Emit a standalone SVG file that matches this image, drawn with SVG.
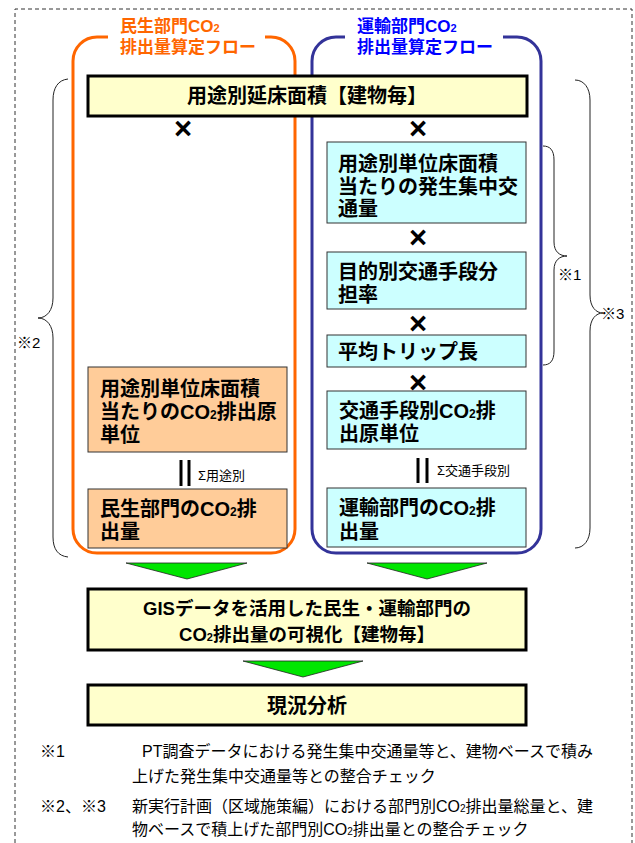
<svg xmlns="http://www.w3.org/2000/svg" width="635" height="843" viewBox="0 0 635 843">
<style>
text{font-family:'Liberation Sans','Noto Sans CJK JP',sans-serif;}
.bt{font-weight:bold;font-size:20px;fill:#000;}
.mt{font-weight:bold;font-size:18.5px;fill:#000;text-anchor:middle;}
.x{font-weight:bold;font-size:31px;fill:#000;text-anchor:middle;}
.sig{font-size:13px;fill:#000;}
.kome{font-size:15px;fill:#000;}
.fn{font-size:16px;fill:#000;}
.ttl{font-weight:bold;font-size:17px;}
.yb{fill:#FFFFCC;stroke:#000;stroke-width:3;}
.pb{fill:#FFCC99;stroke:#333;stroke-width:1;}
.cb{fill:#CCFFFF;stroke:#333;stroke-width:1;}
.brace{fill:none;stroke:#222;stroke-width:1;}
.eq{stroke:#000;stroke-width:3;}
.arr{fill:#00E600;stroke:#222;stroke-width:0.8;}
</style>
<rect x="0" y="0" width="635" height="843" fill="#fff"/>
<path d="M15,843 L15,9 L632,9 L632,843" fill="none" stroke="#333" stroke-width="1" stroke-dasharray="4,3"/>

<g id="minsei-frame">
<path d="M108,37 L97,37 A24,24 0 0 0 73,61 L73,529 A24,24 0 0 0 97,553 L271,553 A24,24 0 0 0 295,529 L295,61 A24,24 0 0 0 271,37 L265,37" fill="none" stroke="#FF6600" stroke-width="3"/>
<text class="ttl" x="120" y="32" fill="#FF6600">民生部門CO<tspan font-size="11">2</tspan></text>
<text class="ttl" x="120" y="53" fill="#FF6600">排出量算定フロー</text>
</g>

<g id="unyu-frame">
<path d="M345,37 L336,37 A24,24 0 0 0 312,61 L312,529 A24,24 0 0 0 336,553 L517,553 A24,24 0 0 0 541,529 L541,61 A24,24 0 0 0 517,37 L503,37" fill="none" stroke="#333399" stroke-width="3"/>
<text class="ttl" x="357" y="32" fill="#0000FF">運輸部門CO<tspan font-size="11">2</tspan></text>
<text class="ttl" x="357" y="53" fill="#0000FF">排出量算定フロー</text>
</g>

<g id="floor-area">
<rect class="yb" x="88" y="76" width="439" height="40"/>
<text class="bt" x="307" y="103" text-anchor="middle">用途別延床面積【建物毎】</text>
</g>

<g id="connectors">
<text class="x" x="183" y="139">×</text>
<text class="x" x="418" y="139">×</text>
<text class="x" x="418" y="248">×</text>
<text class="x" x="418" y="334">×</text>
<text class="x" x="418" y="393">×</text>
<line class="eq" x1="181" y1="460" x2="181" y2="486"/>
<line class="eq" x1="189" y1="460" x2="189" y2="486"/>
<text class="sig" x="198" y="480">Σ用途別</text>
<line class="eq" x1="418" y1="458" x2="418" y2="483"/>
<line class="eq" x1="427" y1="458" x2="427" y2="483"/>
<text class="sig" x="437" y="475">Σ交通手段別</text>
<polygon class="arr" points="126,563 247,563 187,579"/>
<polygon class="arr" points="367,563 487,563 427,579"/>
<polygon class="arr" points="243,661 363,661 303,677"/>
</g>

<g id="minsei-unit">
<rect class="pb" x="88" y="367" width="199" height="85"/>
<text class="bt" x="100" y="396">用途別単位床面積</text>
<text class="bt" x="100" y="419">当たりのCO<tspan font-size="12">2</tspan>排出原</text>
<text class="bt" x="100" y="442">単位</text>
</g>

<g id="minsei-co2">
<rect class="pb" x="88" y="489" width="199" height="59"/>
<text class="bt" x="100" y="516">民生部門のCO<tspan font-size="12">2</tspan>排</text>
<text class="bt" x="100" y="539">出量</text>
</g>

<g id="trip-gen">
<rect class="cb" x="327" y="142" width="199" height="81"/>
<text class="bt" x="338" y="171">用途別単位床面積</text>
<text class="bt" x="338" y="194">当たりの発生集中交</text>
<text class="bt" x="338" y="216">通量</text>
</g>

<g id="modal-share">
<rect class="cb" x="327" y="252" width="199" height="57"/>
<text class="bt" x="338" y="279">目的別交通手段分</text>
<text class="bt" x="338" y="302">担率</text>
</g>

<g id="trip-length">
<rect class="cb" x="327" y="335" width="199" height="32"/>
<text class="bt" x="338" y="359">平均トリップ長</text>
</g>

<g id="mode-unit">
<rect class="cb" x="327" y="391" width="199" height="58"/>
<text class="bt" x="339" y="418">交通手段別CO<tspan font-size="12">2</tspan>排</text>
<text class="bt" x="339" y="441">出原単位</text>
</g>

<g id="unyu-co2">
<rect class="cb" x="327" y="488" width="199" height="59"/>
<text class="bt" x="339" y="515">運輸部門のCO<tspan font-size="12">2</tspan>排</text>
<text class="bt" x="339" y="539">出量</text>
</g>

<g id="gis">
<rect class="yb" x="88" y="589" width="438" height="61"/>
<text class="mt" x="307" y="615">GISデータを活用した民生・運輸部門の</text>
<text class="mt" x="307" y="641">CO<tspan font-size="11">2</tspan>排出量の可視化【建物毎】</text>
</g>

<g id="analysis">
<rect class="yb" x="88" y="685" width="438" height="40"/>
<text class="bt" x="307" y="713" text-anchor="middle">現況分析</text>
</g>

<g id="braces">
<path class="brace" d="M68,79 C58,80 53,88 53,100 L53,298 C53,310 47,318 38,318 C47,318 53,326 53,338 L53,537 C53,549 58,556 68,557"/>
<text class="kome" x="17" y="348">※2</text>
<path class="brace" d="M543,146 C550,146 554,150 554,160 L554,242 C554,252 560,256 567,256 C560,256 554,260 554,270 L554,351 C554,361 550,365 543,365"/>
<text class="kome" x="558" y="280">※1</text>
<path class="brace" stroke="#444" d="M575,80 C584,80 590,88 590,100 L590,295 C590,307 596,313 603,313 C596,313 590,319 590,331 L590,528 C590,540 584,548 575,548"/>
<text class="kome" x="601" y="319">※3</text>
</g>

<g id="notes">
<text class="fn" x="40" y="757">※1</text>
<text class="fn" x="142" y="757">PT調査データにおける発生集中交通量等と、建物ベースで積み</text>
<text class="fn" x="132" y="782">上げた発生集中交通量等との整合チェック</text>
<text class="fn" x="40" y="812">※2、※3</text>
<text class="fn" x="132" y="812">新実行計画（区域施策編）における部門別CO<tspan font-size="10">2</tspan>排出量総量と、建</text>
<text class="fn" x="132" y="835">物ベースで積上げた部門別CO<tspan font-size="10">2</tspan>排出量との整合チェック</text>
</g>
</svg>
